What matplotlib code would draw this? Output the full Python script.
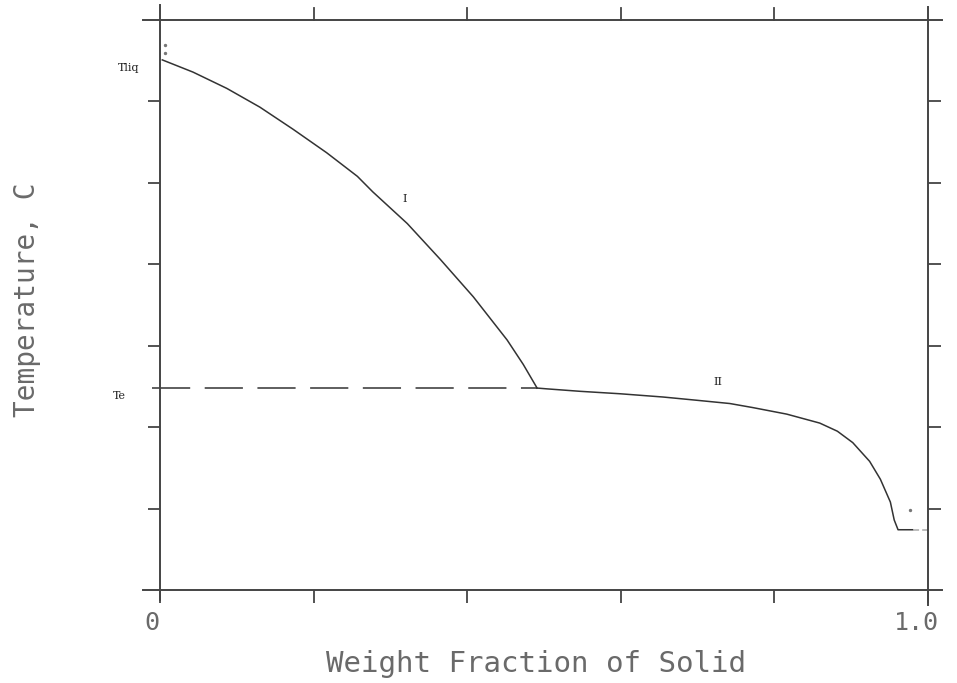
import numpy as np
import matplotlib
matplotlib.use("Agg")
import matplotlib.pyplot as plt

# curve I: liquidus branch (weight fraction solid, temperature in tick units)
x_one = [0.003, 0.043, 0.087, 0.130, 0.173, 0.217, 0.257, 0.277, 0.322,
         0.365, 0.408, 0.452, 0.473, 0.491]
y_one = [6.51, 6.36, 6.16, 5.93, 5.66, 5.37, 5.08, 4.89, 4.50,
         4.06, 3.60, 3.07, 2.77, 2.48]
# curve II: eutectic branch
x_two = [0.491, 0.504, 0.547, 0.599, 0.655, 0.699, 0.742, 0.772, 0.816,
         0.859, 0.882, 0.902, 0.924, 0.938, 0.951, 0.956, 0.961, 0.980]
y_two = [2.48, 2.47, 2.44, 2.41, 2.37, 2.33, 2.29, 2.24, 2.16,
         2.05, 1.95, 1.81, 1.58, 1.36, 1.08, 0.86, 0.74, 0.74]
x_tail = [0.980, 1.0]
y_tail = [0.74, 0.74]

t_liq = 6.51
t_e = 2.48
x_te = [-0.01, 0.491]

x_ticks = [0, 0.2, 0.4, 0.6, 0.8, 1.0]
x_ticklabels = ["0", "", "", "", "", "1.0"]
y_ticks = [1, 2, 3, 4, 5, 6]

stray_x = [0.006, 0.006, 0.977]
stray_y = [6.69, 6.60, 0.98]

ink = "#333333"
txt = "#6a6a6a"

fig = plt.figure(figsize=(9.57, 6.83), dpi=100)
ax = fig.add_axes([160/957, 93/683, 768/957, 570/683])
ax.set_xlim(0, 1)
ax.set_ylim(0, 7)

ax.plot(x_one, y_one, color=ink, lw=1.1)
ax.plot(x_two, y_two, color=ink, lw=1.1)
ax.plot(x_tail, y_tail, color="#aaaaaa", lw=1.1, dashes=(4, 2))
ax.plot(x_te, [t_e, t_e], color=ink, lw=1.1, dashes=(25, 9.5), clip_on=False)
ax.scatter(stray_x, stray_y, s=2, color="#777777", zorder=3)

# spines drawn as long lines crossing past the corners
for s in ax.spines.values():
    s.set_visible(False)
frame = dict(color="#444444", lw=1.4, clip_on=False, transform=ax.transAxes)
ax.plot([0, 0], [-0.018, 1.026], **frame)
ax.plot([1, 1], [-0.026, 1.022], **frame)
ax.plot([-0.022, 1.018], [0, 0], **frame)
ax.plot([-0.022, 1.018], [1, 1], **frame)

ax.set_xticks(x_ticks)
ax.set_xticklabels(x_ticklabels, family="DejaVu Sans Mono", fontsize=18, color=txt)
ax.set_yticks(y_ticks)
ax.set_yticklabels([])
ax.tick_params(direction="out", length=9, width=1.3, color="#444444",
               top=True, right=True, pad=6)
ax.tick_params(axis="x", top=False)
for lab, dx in zip(ax.get_xticklabels(), [-8, 0, 0, 0, 0, -12]):
    lab.set_transform(lab.get_transform() +
                      matplotlib.transforms.ScaledTranslation(dx/100, 0, fig.dpi_scale_trans))
for xv in x_ticks[1:-1]:
    ax.plot([xv, xv], [1, 1.021], color="#444444", lw=1.3, clip_on=False,
            transform=ax.get_xaxis_transform())

ax.text(-0.027, t_liq - 0.1, "Tliq", ha="right", va="center", fontsize=8,
        family="DejaVu Serif", color="#222222")
ax.text(-0.044, t_e - 0.1, "Te", ha="right", va="center", fontsize=8,
        family="DejaVu Serif", color="#222222")
ax.text(0.318, 4.8, "I", ha="center", va="center", fontsize=8,
        family="DejaVu Serif", color="#222222")
ax.text(0.727, 2.55, "II", ha="center", va="center", fontsize=8,
        family="DejaVu Serif", color="#222222")

ax.set_xlabel("Weight Fraction of Solid", family="DejaVu Sans Mono",
              fontsize=21, color=txt)
ax.xaxis.set_label_coords(0.49, -0.105)
ax.set_ylabel("Temperature, C", family="DejaVu Sans Mono", fontsize=20, color=txt)
ax.yaxis.set_label_coords(-0.155, 0.51)

fig.savefig("out.png", dpi=100)
